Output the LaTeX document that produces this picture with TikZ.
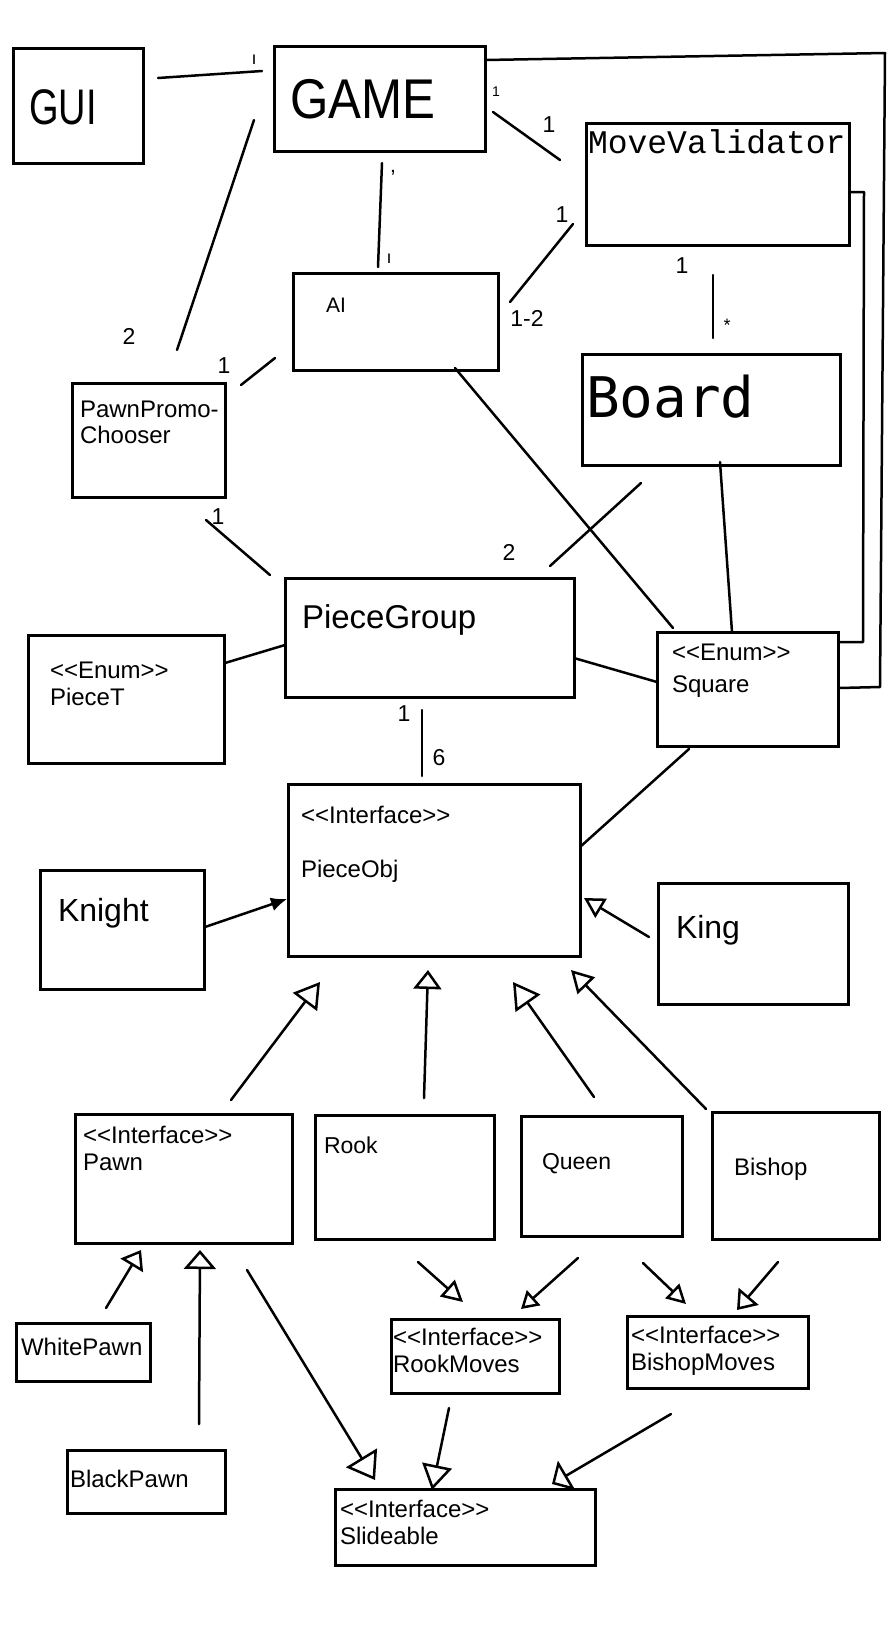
\documentclass[tikz,border=0pt]{standalone}
\usepackage{fontspec}
\setmainfont{Liberation Sans}
\newfontfamily\monoA{Liberation Mono}
\newfontfamily\monoB{DejaVu Sans Mono}
\usetikzlibrary{arrows.meta}
\newcommand\setfs[1]{\fontsize{#1}{#1}\selectfont}
\begin{document}
\begin{tikzpicture}[x=1pt,y=-1pt,
  box/.style={draw,line width=3pt,inner sep=0pt,outer sep=0pt},
  txt/.style={anchor=base west,inner sep=0pt,outer sep=0pt,font=\setfs{24}},
  lbl/.style={inner sep=0pt,font=\setfs{23}},
  conn/.style={line width=2.5pt,line cap=round,line join=round},
  inh/.style 2 args={conn,-{Triangle[open,length=#1pt,width=#2pt]}},
  filled/.style={conn,-{Latex[length=16pt,width=14pt]}}]
\fill[white] (0,0) rectangle (895,1626);
\useasboundingbox (0,0) rectangle (895,1626);

% ---------- boxes ----------
\node[box,minimum width=130pt,minimum height=115pt] (gui) at (78,105.5) {};
\node[box,minimum width=211pt,minimum height=105pt] (game) at (379.5,98.5) {};
\node[box,minimum width=263pt,minimum height=122pt] (mv) at (717.5,184) {};
\node[box,minimum width=205pt,minimum height=97pt] (ai) at (395.5,321.5) {};
\node[box,minimum width=258pt,minimum height=111pt] (board) at (711,409.5) {};
\node[box,minimum width=153pt,minimum height=114pt] (ppc) at (148.5,440) {};
\node[box,minimum width=289pt,minimum height=119pt] (pg) at (429.5,637.5) {};
\node[box,minimum width=196pt,minimum height=128pt] (piecet) at (126,699) {};
\node[box,minimum width=181pt,minimum height=114pt] (square) at (747.5,689) {};
\node[box,minimum width=292pt,minimum height=172pt] (pobj) at (434,870) {};
\node[box,minimum width=164pt,minimum height=119pt] (knight) at (122,929.5) {};
\node[box,minimum width=190pt,minimum height=121pt] (king) at (753,943.5) {};
\node[box,minimum width=217pt,minimum height=129pt] (pawn) at (183.5,1178.5) {};
\node[box,minimum width=179pt,minimum height=124pt] (rook) at (404.5,1177) {};
\node[box,minimum width=161pt,minimum height=120pt] (queen) at (601.5,1176) {};
\node[box,minimum width=167pt,minimum height=127pt] (bishop) at (795.5,1175.5) {};
\node[box,minimum width=134pt,minimum height=58pt] (wpawn) at (83,1352) {};
\node[box,minimum width=158pt,minimum height=63pt] (bpawn) at (146,1481.5) {};
\node[box,minimum width=168pt,minimum height=74pt] (rmoves) at (475,1356) {};
\node[box,minimum width=181pt,minimum height=72pt] (bmoves) at (717.5,1352) {};
\node[box,minimum width=260pt,minimum height=76pt] (slide) at (465,1527) {};

% ---------- texts ----------
\node[txt,font=\setfs{50}] (guiT) at (29,124) {\scalebox{0.76}[1]{GUI}};
\node[txt,font=\setfs{56}] (gameT) at (290,118) {\scalebox{0.88}[1]{GAME}};
\node[txt,font=\monoA\setfs{33}] (mvT) at (588,153) {MoveValidator};
\node[txt,font=\setfs{21}] (aiT) at (326,312) {AI};
\node[txt,font=\monoB\setfs{56}] (boardT) at (586,417) {Board};
\node[txt] (ppcT1) at (80,417) {PawnPromo-};
\node[txt] (ppcT2) at (80,443) {Chooser};
\node[txt,font=\setfs{33}] (pgT) at (302,628) {PieceGroup};
\node[txt] (pietT1) at (50,678) {<{}<Enum>{}>};
\node[txt] (pietT2) at (50,705) {PieceT};
\node[txt] (sqT1) at (672,660) {<{}<Enum>{}>};
\node[txt] (sqT2) at (672,692) {Square};
\node[txt] (pobjT1) at (301,823) {<{}<Interface>{}>};
\node[txt] (pobjT2) at (301,877) {PieceObj};
\node[txt,font=\setfs{32}] (knightT) at (58,921) {Knight};
\node[txt,font=\setfs{32}] (kingT) at (676,938) {King};
\node[txt] (pawnT1) at (83,1143) {<{}<Interface>{}>};
\node[txt] (pawnT2) at (83,1170) {Pawn};
\node[txt,font=\setfs{23}] (rookT) at (324,1153) {Rook};
\node[txt,font=\setfs{23}] (queenT) at (542,1169) {Queen};
\node[txt] (bishopT) at (734,1175) {Bishop};
\node[txt] (wpawnT) at (21,1355) {WhitePawn};
\node[txt] (bpawnT) at (70,1487) {BlackPawn};
\node[txt] (rmT1) at (393,1345) {<{}<Interface>{}>};
\node[txt] (rmT2) at (393,1372) {RookMoves};
\node[txt] (bmT1) at (631,1343) {<{}<Interface>{}>};
\node[txt] (bmT2) at (631,1370) {BishopMoves};
\node[txt] (slT1) at (340,1517) {<{}<Interface>{}>};
\node[txt] (slT2) at (340,1544) {Slideable};

% ---------- connector end points ----------
\coordinate (g1) at (158,78);   \coordinate (g2) at (262,71);
\coordinate (p1) at (254,120);  \coordinate (p2) at (177,350);
\coordinate (a1) at (382,163);  \coordinate (a2) at (378,267);
\coordinate (m1) at (493,112);  \coordinate (m2) at (560,160);
\coordinate (am1) at (573,224); \coordinate (am2) at (510,302);
\coordinate (mb1) at (713,275); \coordinate (mb2) at (713,338);
\coordinate (pa1) at (241,385); \coordinate (pa2) at (275,358);
\coordinate (pp1) at (206,520); \coordinate (pp2) at (270,575);
\coordinate (as1) at (455,368); \coordinate (as2) at (673,628);
\coordinate (bp1) at (641,483); \coordinate (bp2) at (550,566);
\coordinate (bs1) at (720,462); \coordinate (bs2) at (732,632);
\coordinate (tp1) at (225,663); \coordinate (tp2) at (285,645);
\coordinate (ps1) at (574,658); \coordinate (ps2) at (657,682);
\coordinate (po1) at (422,710); \coordinate (po2) at (422,776);
\coordinate (so1) at (689,749); \coordinate (so2) at (580,847);
\coordinate (o1) at (485,60);   \coordinate (o2) at (885,53);
\coordinate (o3) at (880,687);  \coordinate (o4) at (839,688);
\coordinate (i1) at (849,192);  \coordinate (i2) at (864,192);
\coordinate (i3) at (863,642);  \coordinate (i4) at (839,642);

% ---------- associations ----------
\draw[conn] (g1) -- (g2);
\draw[conn] (p1) -- (p2);
\draw[conn] (a1) -- (a2);
\draw[conn] (m1) -- (m2);
\draw[conn] (am1) -- (am2);
\draw[conn] (mb1) -- (mb2);
\draw[conn] (pa1) -- (pa2);
\draw[conn] (pp1) -- (pp2);
\draw[conn] (as1) -- (as2);
\draw[conn] (bp1) -- (bp2);
\draw[conn] (bs1) -- (bs2);
\draw[conn] (tp1) -- (tp2);
\draw[conn] (ps1) -- (ps2);
\draw[conn] (po1) -- (po2);
\draw[conn] (so1) -- (so2);
\draw[conn] (o1) -- (o2) -- (o3) -- (o4);
\draw[conn] (i1) -- (i2) -- (i3) -- (i4);

% ---------- multiplicities ----------
\node[lbl,font=\setfs{18}] (l1) at (254,60) {ı};
\node[lbl] (l2) at (129,336) {2};
\node[lbl,font=\setfs{22}] (l3) at (393,178) {'};
\node[lbl,font=\setfs{18}] (l4) at (389,259) {ı};
\node[lbl,font=\setfs{14}] (l5) at (496,92) {1};
\node[lbl] (l6) at (549,125) {1};
\node[lbl] (l7) at (562,215) {1};
\node[lbl] (l8) at (527,318) {1-2};
\node[lbl] (l9) at (682,266) {1};
\node[lbl,font=\setfs{18}] (l10) at (727,325) {*};
\node[lbl] (l11) at (224,366) {1};
\node[lbl] (l12) at (218,517) {1};
\node[lbl] (l13) at (509,552) {2};
\node[lbl] (l14) at (404,714) {1};
\node[lbl] (l15) at (439,758) {6};

% ---------- inheritance arrows ----------
\coordinate (k1) at (205,927);  \coordinate (k2) at (287,899);
\draw[filled] (k1) -- (k2);
\coordinate (kg1) at (649,937); \coordinate (kg2) at (584,898);
\draw[inh={20}{22}] (kg1) -- (kg2);
\coordinate (pw1) at (231,1100); \coordinate (pw2) at (320,982);
\draw[inh={25}{30}] (pw1) -- (pw2);
\coordinate (rk1) at (424,1098); \coordinate (rk2) at (428,970);
\draw[inh={19}{28}] (rk1) -- (rk2);
\coordinate (qn1) at (594,1097); \coordinate (qn2) at (513,982);
\draw[inh={26}{30}] (qn1) -- (qn2);
\coordinate (bs3) at (706,1109); \coordinate (bs4) at (571,970);
\draw[inh={22}{24}] (bs3) -- (bs4);
\coordinate (wp1) at (106,1308); \coordinate (wp2) at (141,1250);
\draw[inh={18}{26}] (wp1) -- (wp2);
\coordinate (bw1) at (199,1424); \coordinate (bw2) at (200,1250);
\draw[inh={19}{32}] (bw1) -- (bw2);
\coordinate (ps3) at (247,1270); \coordinate (ps4) at (375,1480);
\draw[inh={26}{36}] (ps3) -- (ps4);
\coordinate (rr1) at (418,1262); \coordinate (rr2) at (463,1302);
\draw[inh={21}{22}] (rr1) -- (rr2);
\coordinate (qr1) at (578,1258); \coordinate (qr2) at (521,1309);
\draw[inh={17}{20}] (qr1) -- (qr2);
\coordinate (qb1) at (643,1263); \coordinate (qb2) at (686,1304);
\draw[inh={19}{20}] (qb1) -- (qb2);
\coordinate (bb1) at (778,1262); \coordinate (bb2) at (737,1310);
\draw[inh={18}{26}] (bb1) -- (bb2);
\coordinate (rs1) at (449,1408); \coordinate (rs2) at (432,1490);
\draw[inh={25}{30}] (rs1) -- (rs2);
\coordinate (bl1) at (671,1414); \coordinate (bl2) at (552,1484);
\draw[inh={17}{34}] (bl1) -- (bl2);
\end{tikzpicture}
\end{document}
